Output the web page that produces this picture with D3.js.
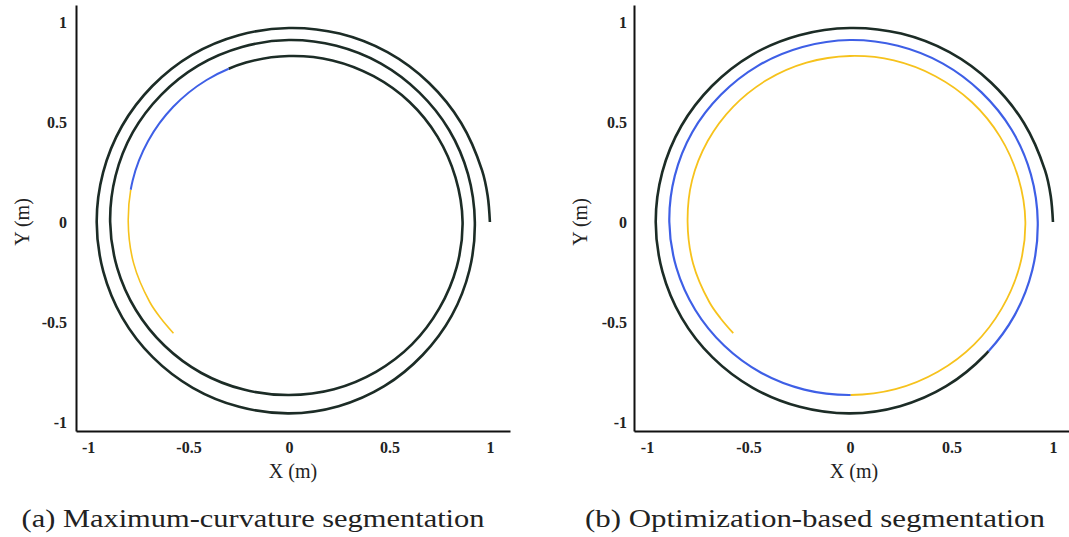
<!DOCTYPE html>
<html>
<head>
<meta charset="utf-8">
<script src="https://cdn.jsdelivr.net/npm/d3@7"></script>
<style>
  body { margin: 0; background: #fff; }
  svg { display: block; }
  .tick text { font-family: "Liberation Serif", "DejaVu Serif", serif; font-weight: bold; fill: #222; }
</style>
</head>
<body>
<svg width="1069" height="537"></svg>
<script>
// trajectory samples (m), roughly every 15 deg, start at (1,0), spiralling counter-clockwise inwards
const trajX = [1.000, 0.989, 0.961, 0.857, 0.696, 0.490, 0.252, 0.000, -0.250, -0.483, -0.680,
  -0.831, -0.925, -0.957, -0.924, -0.829, -0.677, -0.479, -0.248, 0.000, 0.247,
  0.474, 0.665, 0.810, 0.898, 0.925, 0.891, 0.797, 0.648, 0.458, 0.236,
  0.000, -0.234, -0.452, -0.636, -0.777, -0.863, -0.890, -0.855, -0.762, -0.619,
  -0.436, -0.225, 0.000, 0.224, 0.433, 0.612, 0.748, 0.835, 0.864, 0.829,
  0.739, 0.600, 0.421, 0.216, 0.000, -0.214, -0.410, -0.576, -0.701, -0.778,
  -0.800, -0.773, -0.693, -0.638, -0.575];
const trajY = [0.000, 0.130, 0.258, 0.495, 0.696, 0.849, 0.942, 0.970, 0.934, 0.836, 0.680,
  0.480, 0.248, 0.000, -0.248, -0.479, -0.677, -0.829, -0.924, -0.957, -0.921,
  -0.821, -0.665, -0.468, -0.241, 0.000, 0.239, 0.460, 0.648, 0.792, 0.881,
  0.910, 0.875, 0.782, 0.636, 0.449, 0.231, 0.000, -0.229, -0.440, -0.619,
  -0.755, -0.838, -0.865, -0.836, -0.749, -0.612, -0.432, -0.224, 0.000, 0.222,
  0.427, 0.600, 0.729, 0.808, 0.830, 0.797, 0.710, 0.576, 0.405, 0.208,
  0.000, -0.207, -0.400, -0.481, -0.556];

// segment boundaries, as (fractional) positions along the sample list
const breaksA = [0, 56.4, 60.2, 65]; // maximum-curvature
const breaksB = [0, 22.1, 43, 65];   // optimization-based
const segColors = ["#1c2c26", "#3e5fe6", "#f6c21c"];

const tickVals = [-1, -0.5, 0, 0.5, 1];
const captions = ["(a) Maximum-curvature segmentation", "(b) Optimization-based segmentation"];

const svg = d3.select("svg");
const points = trajX.map((x, i) => ({ x, y: trajY[i] }));

const panels = [
  { xDomain: [-1.06, 1.1], xRange: [76, 510], breaks: breaksA, widths: [2.6, 2.0, 1.6], capX: 253, capW: 463 },
  { xDomain: [-1.064, 1.079], xRange: [634, 1069], breaks: breaksB, widths: [2.6, 2.2, 1.8], capX: 815, capW: 460 }
];

panels.forEach((p, k) => {
  const x = d3.scaleLinear().domain(p.xDomain).range(p.xRange);
  const y = d3.scaleLinear().domain([-1.045, 1.085]).range([431, 5]);
  const g = svg.append("g");

  const line = d3.line()
    .x(d => x(d.x))
    .y(d => y(d.y))
    .curve(d3.curveCatmullRom.alpha(0.5));

  // cumulative path length at every sample, measured on prefix paths
  const probe = g.append("path").attr("fill", "none").attr("stroke", "none");
  const cum = points.map((d, i) => i === 0 ? 0 :
    probe.attr("d", line(points.slice(0, i + 1))).node().getTotalLength());
  probe.remove();
  const lenAt = t => {
    const i = Math.floor(t), f = t - i;
    return i >= cum.length - 1 ? cum[cum.length - 1] : cum[i] + f * (cum[i + 1] - cum[i]);
  };
  const total = cum[cum.length - 1];

  for (let s = 0; s < 3; s++) {
    const a = lenAt(p.breaks[s]), b = lenAt(p.breaks[s + 1]);
    g.append("path")
      .datum(points)
      .attr("d", line)
      .attr("fill", "none")
      .attr("stroke", segColors[s])
      .attr("stroke-width", p.widths[s])
      .attr("stroke-dasharray", `0 ${a} ${b - a} ${total + 10}`);
  }

  const xAxis = g.append("g")
    .attr("transform", "translate(0,431)")
    .call(d3.axisBottom(x).tickValues(tickVals).tickSize(0).tickSizeOuter(0).tickPadding(11)
      .tickFormat(d => String(d)));
  const yAxis = g.append("g")
    .attr("transform", `translate(${p.xRange[0]},0)`)
    .call(d3.axisLeft(y).tickValues(tickVals).tickSize(0).tickSizeOuter(0).tickPadding(k === 0 ? 9 : 7)
      .tickFormat(d => String(d)));
  [xAxis, yAxis].forEach(a => {
    a.select(".domain").attr("stroke", "#111").attr("stroke-width", 2);
    a.selectAll(".tick text").attr("font-size", 16);
  });

  g.append("text")
    .attr("x", x(0) + 4)
    .attr("y", 478)
    .attr("text-anchor", "middle")
    .attr("font-family", "Liberation Serif, DejaVu Serif, serif")
    .attr("font-size", 20)
    .attr("fill", "#222")
    .text("X (m)");

  g.append("text")
    .attr("transform", `translate(${p.xRange[0] - 47},222) rotate(-90)`)
    .attr("text-anchor", "middle")
    .attr("font-family", "Liberation Serif, DejaVu Serif, serif")
    .attr("font-size", 20)
    .attr("fill", "#222")
    .text("Y (m)");

  g.append("text")
    .attr("x", p.capX)
    .attr("y", 527)
    .attr("text-anchor", "middle")
    .attr("font-family", "Liberation Serif, DejaVu Serif, serif")
    .attr("font-size", 26)
    .attr("fill", "#222")
    .attr("textLength", p.capW)
    .attr("lengthAdjust", "spacingAndGlyphs")
    .text(captions[k]);
});
</script>
</body>
</html>
